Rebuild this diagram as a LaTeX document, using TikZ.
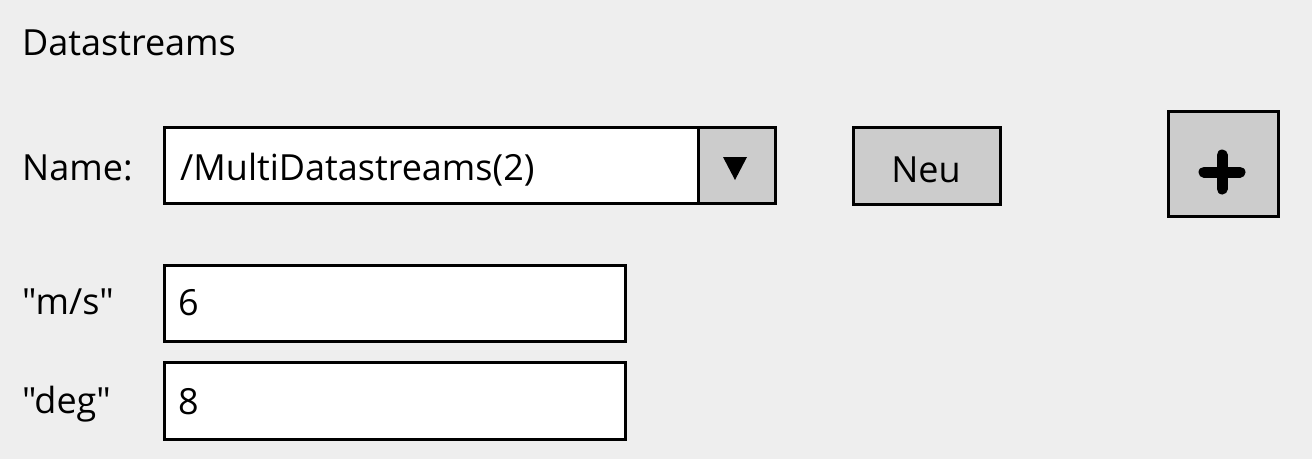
\documentclass[tikz,border=0pt]{standalone}
\usepackage{fontspec}
\setmainfont{Open Sans}[Ligatures=TeXOff]
\definecolor{bg}{HTML}{EEEEEE}
\definecolor{btn}{HTML}{CCCCCC}
\begin{document}
\begin{tikzpicture}[x=1pt,y=-1pt,
 box/.style={draw=black, line width=3pt, fill=white, inner sep=0pt, anchor=north west},
 btnbox/.style={box, fill=btn},
 lbl/.style={anchor=base west, inner sep=0pt, font=\fontsize{36}{42}\selectfont},
 ctr/.style={anchor=base, inner sep=0pt, font=\fontsize{36}{42}\selectfont},
]
\fill[bg] (0,0) rectangle (1312,459);
\useasboundingbox (0,0) rectangle (1312,459);
% title
\node[lbl] (title) at (22,55) {Datastreams};
% name row
\node[lbl] (namelbl) at (22,180) {Name:};
\node[box, minimum width=611pt, minimum height=76pt] (dd) at (163,126) {};
\node[btnbox, minimum width=77pt, minimum height=76pt] (ddbtn) at (697,126) {};
\fill (723,157) -- (747,157) -- (735,180) -- cycle;
\node[lbl] (ddtext) at (180,180) {/MultiDatastreams(2)};
\node[btnbox, minimum width=147pt, minimum height=77pt] (neu) at (852,126) {};
\node[ctr] (neutext) at (926,182) {Neu};
\node[btnbox, minimum width=110pt, minimum height=105pt] (plus) at (1167,110) {};
\draw[line width=11pt, line cap=round] (1204,172) -- (1240,172);
\draw[line width=11pt, line cap=round] (1222,155) -- (1222,189);
% value rows
\node[lbl] (mslbl) at (22,314) {"m/s"};
\node[box, minimum width=461pt, minimum height=76pt] (msbox) at (163,264) {};
\node[lbl] (msval) at (178,315) {6};
\node[lbl] (deglbl) at (22,413) {"deg"};
\node[box, minimum width=461pt, minimum height=77pt] (degbox) at (163,361) {};
\node[lbl] (degval) at (178,414) {8};
\end{tikzpicture}
\end{document}
